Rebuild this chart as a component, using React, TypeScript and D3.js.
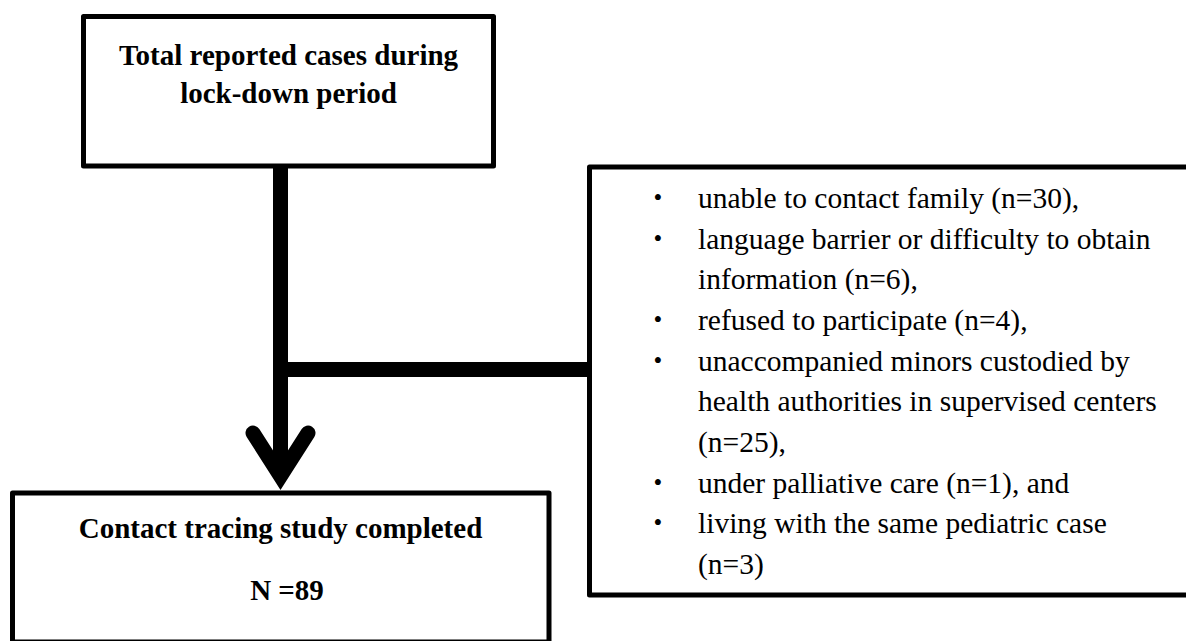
import React from 'react';
import * as d3 from 'd3';

const WIDTH = 1186;
const HEIGHT = 641;
const FONT = "'Palatino Linotype', 'Book Antiqua', Palatino, 'Liberation Serif', serif";

// box contents
const topLines = ['Total reported cases during', 'lock-down period'];
const bottomLines = ['Contact tracing study completed', 'N =89'];
const excluded = [
    ['unable to contact family (n=30),'],
    ['language barrier or difficulty to obtain', 'information (n=6),'],
    ['refused to participate (n=4),'],
    ['unaccompanied minors custodied by', 'health authorities in supervised centers', '(n=25),'],
    ['under palliative care (n=1), and'],
    ['living with the same pediatric case', '(n=3)'],
];

// flatten bullet items into rows
const rows = excluded.flatMap(item => item.map((text, i) => ({ text, bullet: i === 0 })));

const BORDER = 5;
const ARM = 15;

const App = () => {
    const rowY = d3.scaleLinear().domain([0, rows.length - 1]).range([208, 574]);
    const topY = d3.scaleLinear().domain([0, 1]).range([65, 103]);
    const bottomY = d3.scaleLinear().domain([0, 1]).range([538, 600]);

    const shaft = d3.line()([[280.5, 168], [280.5, 476]]);
    const branch = d3.line()([[280.5, 369.5], [590, 369.5]]);
    const head = d3.line()([[253, 433], [280.5, 476], [308, 433]]);

    return (
        <svg width={WIDTH} height={HEIGHT}
            style={{ position: 'absolute', left: 0, top: 0, background: '#fff' }}
            fontFamily={FONT}>

            <g fill="none" stroke="#000" strokeWidth={BORDER} strokeLinejoin="round">
                <rect x={83.5} y={16.5} width={410} height={149.5} />
                <rect x={589.5} y={167} width={720} height={428} />
                <rect x={12.5} y={493} width={536.5} height={149} />
            </g>

            <g fill="none" stroke="#000" strokeWidth={ARM}>
                <path d={shaft} />
                <path d={branch} />
                <path d={head} strokeLinecap="round" strokeLinejoin="miter" />
            </g>

            <g fontWeight="bold" fontSize={29} textAnchor="middle">
                {topLines.map((t, i) => (
                    <text key={t} x={288.5} y={topY(i)}>{t}</text>
                ))}
                {bottomLines.map((t, i) => (
                    <text key={t} x={i ? 287 : 280.5} y={bottomY(i)}>{t}</text>
                ))}
            </g>

            <g fontSize={29.5}>
                {rows.map((r, i) => (
                    <g key={i}>
                        {r.bullet && (
                            <text x={658} y={rowY(i) - 2} textAnchor="middle" fontSize={25}>•</text>
                        )}
                        <text x={698} y={rowY(i)}>{r.text}</text>
                    </g>
                ))}
            </g>
        </svg>
    );
};

export default App;
